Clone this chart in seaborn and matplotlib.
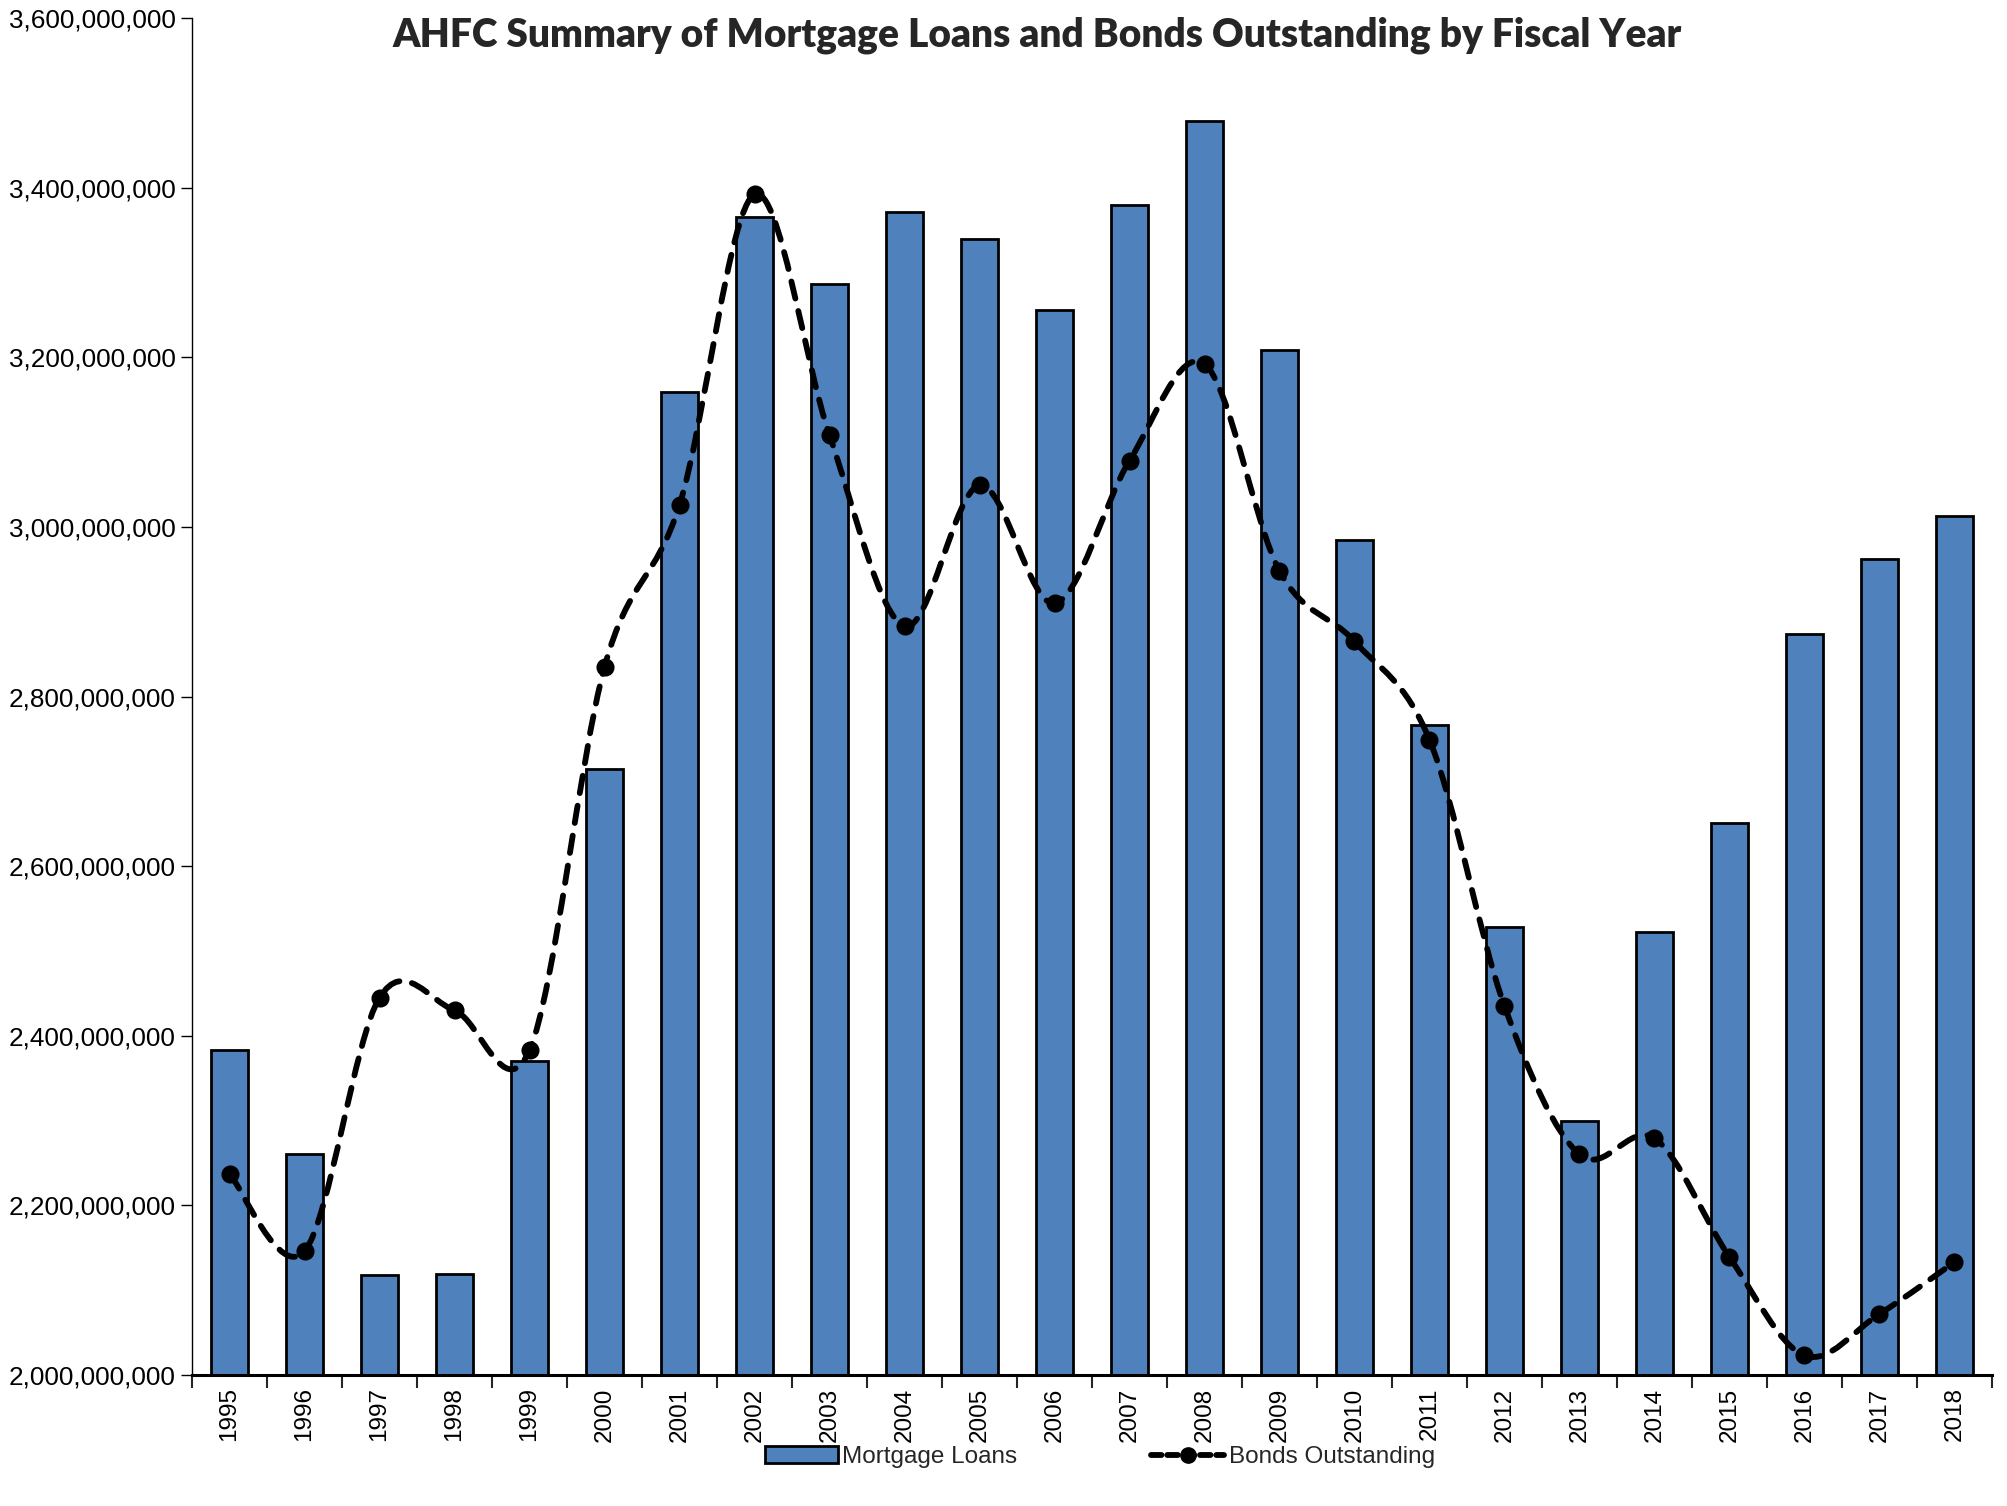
import numpy as np
import pandas as pd
import matplotlib
matplotlib.use('Agg')
import matplotlib.pyplot as plt
import seaborn as sns
from matplotlib.path import Path
from matplotlib.patches import PathPatch, Patch
from matplotlib.lines import Line2D
from matplotlib.ticker import FuncFormatter, MultipleLocator

# Values
years = [str(y) for y in range(1995, 2019)]
mortgage_loans = [
    2.383e9, 2.260e9, 2.118e9, 2.119e9, 2.370e9, 2.715e9, 3.159e9, 3.366e9,
    3.286e9, 3.371e9, 3.340e9, 3.256e9, 3.380e9, 3.479e9, 3.209e9, 2.984e9,
    2.767e9, 2.528e9, 2.300e9, 2.522e9, 2.651e9, 2.874e9, 2.962e9, 3.013e9,
]
bonds_outstanding = [
    2.237e9, 2.146e9, 2.445e9, 2.430e9, 2.383e9, 2.835e9, 3.026e9, 3.392e9,
    3.108e9, 2.883e9, 3.049e9, 2.910e9, 3.078e9, 3.192e9, 2.948e9, 2.865e9,
    2.749e9, 2.435e9, 2.260e9, 2.279e9, 2.139e9, 2.023e9, 2.072e9, 2.133e9,
]

df = pd.DataFrame({'Year': years,
                   'Mortgage Loans': mortgage_loans,
                   'Bonds Outstanding': bonds_outstanding})

bar_color = '#4F81BD'

sns.set_style('white')
plt.rcParams['font.family'] = ['Liberation Sans', 'DejaVu Sans']

fig = plt.figure(figsize=(20.07, 15.06), dpi=100)
ax = fig.add_axes([0.0957, 0.087, 0.8968, 0.901])

# Bars
sns.barplot(data=df, x='Year', y='Mortgage Loans', color=bar_color, saturation=1,
            edgecolor='black', linewidth=2, width=0.5, ax=ax, zorder=2)

# Smoothed dashed line (Bezier segments through the data points, Excel style)
n = len(years)
xs = np.arange(n, dtype=float)
ys = np.array(bonds_outstanding, dtype=float)
verts = [(xs[0], ys[0])]
codes = [Path.MOVETO]
for i in range(n - 1):
    a = max(i - 1, 0)
    b = min(i + 2, n - 1)
    c1 = (xs[i] + (xs[i + 1] - xs[a]) / 6, ys[i] + (ys[i + 1] - ys[a]) / 6)
    c2 = (xs[i + 1] - (xs[b] - xs[i]) / 6, ys[i + 1] - (ys[b] - ys[i]) / 6)
    verts += [c1, c2, (xs[i + 1], ys[i + 1])]
    codes += [Path.CURVE4] * 3
ax.add_patch(PathPatch(Path(verts, codes), fill=False, edgecolor='black', lw=4.2,
                       linestyle=(0, (3.0, 2.2)), capstyle='round', zorder=3))

# Markers
sns.pointplot(data=df, x='Year', y='Bonds Outstanding', color='black',
              linestyle='none', marker='o', markersize=11, errorbar=None,
              ax=ax, zorder=4)

# Axes styling
ax.set_xlim(-0.5, n - 0.5)
ax.set_ylim(2.0e9, 3.6e9)
ax.yaxis.set_major_locator(MultipleLocator(2e8))
ax.yaxis.set_major_formatter(FuncFormatter(lambda v, p: f'{v:,.0f}'))
ax.set_xlabel('')
ax.set_ylabel('')

ax.set_xticks(range(n))
ax.set_xticklabels(years, rotation=90)
ax.set_xticks(np.arange(-0.5, n), minor=True)
ax.tick_params(axis='x', which='major', length=0, pad=9, labelsize=17.5, colors='black')
ax.tick_params(axis='x', which='minor', length=9, width=1.5, direction='out', bottom=True)
ax.tick_params(axis='y', length=8, width=1, direction='out', left=True, labelsize=18.8,
               pad=4, colors='black')

for side in ['top', 'right']:
    ax.spines[side].set_visible(False)
ax.spines['left'].set_color('black')
ax.spines['left'].set_linewidth(1)
ax.spines['bottom'].set_color('black')
ax.spines['bottom'].set_linewidth(2.2)
ax.spines['bottom'].set_zorder(5)

# Title
fig.text(0.517, 1 - 35 / 1506, 'AHFC Summary of Mortgage Loans and Bonds Outstanding by Fiscal Year',
         ha='center', va='center', fontsize=28, fontweight='heavy', family=['Lato', 'DejaVu Sans'])

# Legend
handles = [
    Patch(facecolor=bar_color, edgecolor='black', linewidth=2),
    Line2D([], [], color='black', lw=4.2, linestyle=(0, (1.8, 1.0)), marker='o',
           markersize=11, dash_capstyle='round'),
]
fig.legend(handles, ['Mortgage Loans', 'Bonds Outstanding'], loc='center',
           bbox_to_anchor=(0.548, 1 - 1457 / 1506), ncol=2, frameon=False,
           fontsize=17.5, columnspacing=5.5, handlelength=3, handletextpad=0.2)

fig.savefig('out.png', dpi=100)
